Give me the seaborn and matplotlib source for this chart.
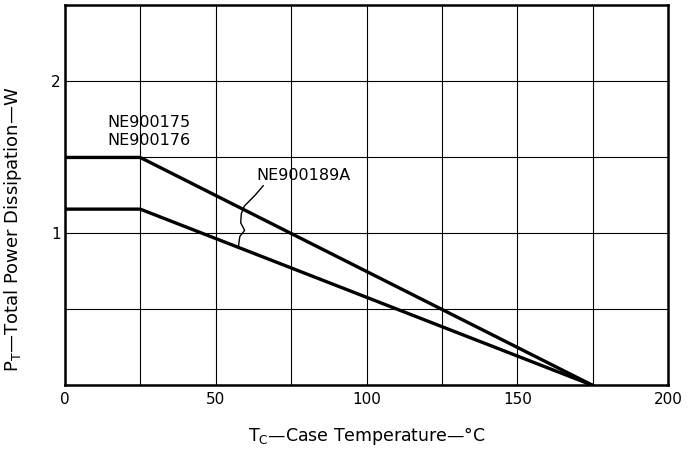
import numpy as np
import pandas as pd
import seaborn as sns
import matplotlib
import matplotlib.pyplot as plt
plt.switch_backend('agg')

# derating curves
temp_c = [0, 25, 175]
pt_175_176 = [1.5, 1.5, 0.0]
pt_189a = [1.16, 1.16, 0.0]
series_names = ['NE900175/NE900176', 'NE900189A']

xticks = [0, 25, 50, 75, 100, 125, 150, 175, 200]
xticklabels = ['0', '', '50', '', '100', '', '150', '', '200']
yticks = [0, 0.5, 1, 1.5, 2, 2.5]
yticklabels = ['', '', '1', '', '2', '']

# leader line from the NE900189A label down to the lower curve
leader_x = [65.8, 63.0, 59.5, 58.5, 58.3, 59.6, 58.0, 57.6]
leader_y = [1.315, 1.25, 1.18, 1.13, 1.07, 1.02, 0.98, 0.92]


def makePlot(outputfile):
    df = pd.DataFrame({
        'temp': temp_c * 2,
        'pt': pt_175_176 + pt_189a,
        'part': [series_names[0]] * 3 + [series_names[1]] * 3,
    })

    sns.set_style('white')
    plt.rcParams['font.family'] = ['DejaVu Sans']
    plt.rcParams['mathtext.default'] = 'regular'
    plt.rcParams['text.color'] = 'black'
    plt.rcParams['axes.labelcolor'] = 'black'
    plt.rcParams['xtick.color'] = 'black'
    plt.rcParams['ytick.color'] = 'black'

    fig = plt.figure(figsize=(6.89, 4.54), dpi=100)
    ax = fig.add_axes([0.094, 0.151, 0.876, 0.837])

    sns.lineplot(data=df, x='temp', y='pt', units='part', estimator=None,
                 color='black', linewidth=2.4, ax=ax, legend=False)

    ax.set_xlim(0, 200)
    ax.set_ylim(0, 2.5)
    ax.set_xticks(xticks)
    ax.set_xticklabels(xticklabels, fontsize=11)
    ax.set_yticks(yticks)
    ax.set_yticklabels(yticklabels, fontsize=11)
    ax.tick_params(axis='x', length=0, pad=5)
    ax.tick_params(axis='y', length=0, pad=3)
    ax.grid(True, color='black', linewidth=0.8)
    for s in ax.spines.values():
        s.set_visible(True)
        s.set_color('black')
        s.set_linewidth(1.8)

    ax.set_xlabel('T$_C$\u2014Case Temperature\u2014\u00b0C', fontsize=12.5)
    ax.xaxis.set_label_coords(0.5, -0.105)
    ax.set_ylabel('P$_T$\u2014Total Power Dissipation\u2014W', fontsize=13)
    ax.yaxis.set_label_coords(-0.067, 0.41)

    ax.text(14.2, 1.56, 'NE900175\nNE900176', fontsize=11.5, ha='left', va='bottom',
            linespacing=1.3)
    ax.text(63.5, 1.33, 'NE900189A', fontsize=11.5, ha='left', va='bottom')
    ax.plot(leader_x, leader_y, color='black', linewidth=1.0)

    fig.savefig(outputfile, dpi=100)


if __name__ == '__main__':
    makePlot('out.png')
